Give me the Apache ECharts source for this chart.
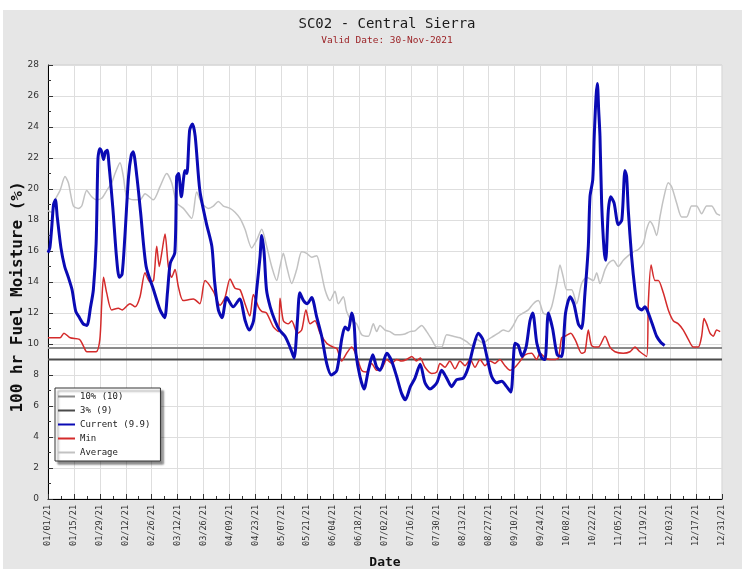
<!DOCTYPE html>
<html>
<head>
<meta charset="utf-8">
<script src="https://cdn.jsdelivr.net/npm/echarts@6/dist/echarts.min.js"></script>
<style>
html,body{margin:0;padding:0;background:#fff;width:742px;height:569px;overflow:hidden;}
#c{position:absolute;left:3px;top:10px;width:739px;height:559px;background:#e6e6e6;}
</style>
</head>
<body>
<div id="c"></div>
<script>
// ---- data (day index from 01/01/21, value %) ----
const xTickLabels = ['01/01/21','01/15/21','01/29/21','02/12/21','02/26/21','03/12/21','03/26/21','04/09/21','04/23/21','05/07/21','05/21/21','06/04/21','06/18/21','07/02/21','07/16/21','07/30/21','08/13/21','08/27/21','09/10/21','09/24/21','10/08/21','10/22/21','11/05/21','11/19/21','12/03/21','12/17/21','12/31/21'];
const yTicks = [0,2,4,6,8,10,12,14,16,18,20,22,24,26,28];
const seriesNames = ['10% (10)','3% (9)','Current (9.9)','Min','Average'];
const thresholdValues = [9.75, 9];

const currentData = [[0,15.9],[1,16.2],[2,17.5],[3,19.0],[4,19.3],[5,18.2],[7,16.2],[9,15.0],[11,14.3],[13,13.5],[15,12.1],[17,11.7],[19,11.3],[21,11.2],[23,12.4],[24.5,13.5],[26,16.5],[27,22.0],[28,22.6],[29,22.4],[30,21.9],[31,22.4],[32,22.5],[33,21.5],[35,18.8],[37,15.6],[38.5,14.3],[40,14.5],[41.5,16.9],[43.5,20.8],[45,22.2],[46,22.4],[48,20.8],[50,18.5],[53,15.0],[57,13.5],[60.5,12.2],[63,11.7],[64.5,13.3],[66,15.2],[68.5,15.9],[69.5,20.8],[70.5,21.0],[72,19.5],[74,21.2],[75,21.0],[76.5,23.8],[78,24.2],[79.5,23.4],[82,19.9],[85.5,17.8],[88.5,16.3],[90,14.0],[92,12.2],[94,11.7],[96.5,13.0],[100,12.4],[103.5,12.9],[106.5,11.5],[108.7,10.9],[111,11.5],[112.7,13.5],[114.5,15.6],[115.4,17.0],[116.7,15.9],[118,13.5],[120,12.4],[122.6,11.5],[125,10.9],[128,10.5],[130.7,9.8],[132.9,9.1],[134.7,11.5],[136,13.3],[138,12.8],[140,12.6],[142.4,13.0],[145,11.8],[147.8,10.5],[150.5,8.75],[153,8.0],[156,8.3],[158.6,10.3],[160.4,11.1],[162.2,10.9],[164,12.0],[165.3,11.3],[166.3,9.4],[168.5,7.9],[170.7,7.1],[173,8.3],[175.4,9.3],[177.5,8.5],[179.3,8.3],[183,9.4],[185.6,8.9],[188.3,7.9],[191,6.8],[193,6.4],[195.7,7.25],[198.2,7.8],[201,8.7],[203.6,7.5],[206.3,7.1],[210,7.5],[212.6,8.3],[215.3,7.8],[218,7.25],[220.7,7.7],[224.3,7.8],[227,8.5],[229.7,9.8],[232.4,10.7],[234.8,10.3],[237,9.2],[239.6,7.9],[242.3,7.5],[245,7.6],[247.7,7.25],[250,6.9],[252.2,10.05],[254,9.9],[256,9.2],[258.2,9.8],[260.3,11.5],[261.8,12.0],[264,10.05],[266.6,9.1],[268.4,9.0],[270.2,12.0],[272.5,11.0],[275,9.3],[277.4,9.2],[279.5,12.0],[282,13.05],[284,12.6],[286.4,11.3],[288.2,11.0],[290,13.3],[291.8,16.3],[292.7,19.5],[294.2,20.6],[295,23.4],[296,26.0],[296.7,26.8],[297.4,25.1],[298.1,23.4],[299,19.1],[300.3,16.1],[301.2,15.4],[302.6,18.6],[303.9,19.5],[305.7,19.1],[308,17.7],[309.9,18.0],[311.6,21.2],[312.5,20.8],[313.4,18.6],[315.2,15.6],[317,13.5],[318.5,12.4],[320.6,12.2],[322.4,12.4],[324.2,12.0],[326.9,11.1],[328.7,10.5],[331,10.1],[333,9.9]];

const minData = [[0,10.4],[6.5,10.4],[8.6,10.7],[12,10.4],[17,10.3],[19,9.9],[21,9.5],[26,9.5],[28,10.3],[29,12.6],[30,14.3],[31.7,13.3],[34.4,12.2],[38,12.3],[40,12.2],[44.3,12.6],[47,12.4],[49.7,13.05],[52.4,14.6],[55,14.0],[57,14.1],[58.7,16.3],[60.1,15.0],[61.4,15.85],[63.2,17.1],[65,15.0],[66.8,14.3],[68.6,14.8],[70.4,13.7],[73,12.8],[78.5,12.9],[82,12.6],[84.8,14.1],[89.3,13.4],[92.9,12.5],[95.6,13.0],[98.3,14.2],[101,13.6],[103.7,13.5],[106.4,12.6],[109,11.8],[110.9,13.2],[113.6,12.4],[115.4,12.1],[118,12.0],[121.7,11.1],[124.4,10.8],[125.3,12.95],[127.1,11.5],[129.8,11.3],[131.6,11.5],[134.7,10.7],[137,10.9],[139.3,12.2],[141.5,11.3],[144.2,11.5],[146.9,10.7],[150.5,10.05],[154,9.8],[156,9.7],[158.6,8.9],[161.3,9.4],[164,9.8],[166.7,9.2],[169.4,8.3],[172,8.2],[174.8,8.75],[177.5,8.3],[180.2,8.4],[183,9.0],[185.6,8.75],[188.3,9.0],[191,8.9],[193.7,9.0],[196.5,9.2],[199,8.9],[201,9.1],[203.6,8.5],[207.2,8.1],[210,8.2],[211.7,8.75],[214.4,8.5],[217,8.9],[219.8,8.4],[222.5,8.9],[225.2,8.6],[228,9.0],[230.6,8.5],[233.3,9.0],[236,8.6],[238.7,8.9],[241.4,8.75],[244,9.0],[246.8,8.6],[249.5,8.3],[252.2,8.5],[255,8.9],[257.6,9.3],[261.2,9.4],[263.9,9.0],[265.7,9.4],[269.3,9.05],[273,9.0],[275.6,9.1],[277.4,10.4],[279.2,10.5],[282.3,10.7],[285,10.2],[288.2,9.4],[290,9.5],[291.8,10.9],[293.6,9.9],[297.2,9.8],[300.8,10.5],[303.5,9.8],[306.2,9.5],[310.7,9.4],[314.3,9.5],[317,9.8],[319.7,9.5],[323.3,9.2],[324.2,12.6],[325.7,15.1],[327.8,14.1],[329.6,14.1],[332.3,13.3],[335,12.2],[337.7,11.5],[340.4,11.3],[343.1,10.9],[345.8,10.3],[348.5,9.8],[351.2,9.8],[353,10.5],[354.3,11.65],[355.7,11.3],[357.5,10.7],[359.3,10.5],[361.1,10.9],[363,10.8]];

const averageData = [[0,18.6],[2,18.5],[3.8,19.3],[6.5,19.9],[9.2,20.8],[11,20.4],[13.7,18.9],[16.4,18.75],[18.2,18.9],[20.9,19.9],[23.6,19.5],[26.3,19.3],[29,19.4],[31.7,19.9],[34.4,20.4],[36.2,21.0],[38.9,21.7],[40.7,20.8],[42.5,19.5],[46.1,19.3],[49.7,19.3],[52.4,19.7],[56.9,19.3],[60.5,20.15],[64.1,21.0],[66.8,20.4],[69.5,19.1],[73.1,18.75],[77.6,18.1],[80.3,19.8],[83,19.1],[86.6,18.75],[89.3,18.9],[92,19.2],[94.7,18.9],[98.3,18.75],[101,18.5],[103.7,18.1],[106.4,17.4],[110,16.2],[112.7,16.7],[115.4,17.4],[118.1,16.3],[120.8,15.0],[123.5,14.1],[125.3,15.0],[127.1,15.85],[128.9,15.0],[131.6,13.9],[134.3,14.8],[137,15.95],[139.7,15.85],[142.4,15.6],[145.1,15.7],[146.9,15.0],[149.6,13.5],[152.3,12.8],[155,13.4],[156.8,12.6],[159.5,13.05],[161.3,12.1],[164,11.5],[166.7,11.3],[169.4,10.6],[173,10.5],[175.7,11.3],[177.5,10.8],[179.3,11.2],[182,10.9],[184.7,10.8],[187.4,10.6],[190.1,10.6],[192.8,10.65],[195.5,10.8],[198.2,10.85],[201.8,11.2],[204.5,10.8],[207.2,10.3],[209.9,9.8],[212.6,9.8],[215.3,10.6],[218.9,10.5],[222.5,10.4],[226.1,10.15],[228.8,9.9],[231.5,10.3],[235.1,10.05],[237.8,10.3],[240.5,10.5],[243.2,10.7],[245.9,10.9],[248.6,10.8],[251.3,11.2],[254,11.8],[256.7,12.0],[259.4,12.2],[262.1,12.6],[264.8,12.8],[267.5,12.0],[269.5,11.9],[272,12.4],[274.7,13.9],[276.5,15.1],[278.3,14.3],[280.1,13.5],[282.8,13.5],[285.5,12.6],[288.2,13.9],[290.9,14.3],[294.5,14.1],[296.3,14.6],[298.1,13.9],[300.8,14.8],[302.6,15.2],[305.3,15.4],[308,15.0],[310.7,15.4],[313.4,15.7],[316.1,15.95],[318.8,16.1],[321.5,16.5],[323.3,17.4],[325.1,17.9],[326.9,17.6],[328.7,17.0],[330.5,18.2],[332.3,19.3],[335,20.4],[336.8,20.15],[339.5,19.1],[342.2,18.2],[344.9,18.2],[347.6,18.9],[350.3,18.9],[353,18.4],[355.7,18.9],[358.4,18.9],[361.1,18.4],[363,18.3]];

// ---- chart ----
const X_MAX = (xTickLabels.length - 1) * 14;
const mono = 'DejaVu Sans Mono';
const chart = echarts.init(document.getElementById('c'), null, {renderer: 'canvas'});

function thresholdSeries(i, color, width) {
  return {
    name: seriesNames[i], type: 'line', color: color, symbol: 'none', z: 2,
    lineStyle: {color: color, width: width},
    data: [[0, thresholdValues[i]], [X_MAX, thresholdValues[i]]],
    silent: true, animation: false
  };
}

chart.setOption({
  animation: false,
  backgroundColor: '#e6e6e6',
  title: [
    {text: 'SC02 - Central Sierra', left: 379, top: 2, textAlign: 'center',
     textStyle: {fontFamily: mono, fontSize: 14, fontWeight: 'normal', color: '#1a1a1a'}},
    {text: 'Valid Date: 30-Nov-2021', left: 379, top: 21, textAlign: 'center',
     textStyle: {fontFamily: mono, fontSize: 9.5, fontWeight: 'normal', color: '#9b2226'}}
  ],
  grid: {left: 45, top: 55, right: 20, bottom: 70, show: true, backgroundColor: '#ffffff', borderColor: '#cfcfcf', borderWidth: 1},
  legend: {
    orient: 'vertical', left: 52, top: 378,
    data: seriesNames,
    icon: 'rect', itemWidth: 17, itemHeight: 2, itemGap: 5,
    padding: [4, 10, 4, 3],
    backgroundColor: '#ffffff', borderColor: '#333', borderWidth: 1,
    shadowColor: 'rgba(0,0,0,0.45)', shadowBlur: 2, shadowOffsetX: 3, shadowOffsetY: 3,
    textStyle: {fontFamily: mono, fontSize: 9, color: '#222'},
    selectedMode: false
  },
  xAxis: {
    type: 'value', min: 0, max: X_MAX, interval: 14,
    axisLine: {lineStyle: {color: '#000', width: 1}},
    axisTick: {inside: true, length: 5, lineStyle: {color: '#333'}},
    minorTick: {show: true, splitNumber: 2, length: 3, lineStyle: {color: '#333'}},
    splitLine: {show: true, lineStyle: {color: '#dedede', width: 1}},
    axisLabel: {
      rotate: 90, margin: 6, fontFamily: mono, fontSize: 8.5, color: '#333',
      formatter: function (v) { return xTickLabels[Math.round(v / 14)] || ''; }
    }
  },
  yAxis: {
    type: 'value', min: yTicks[0], max: yTicks[yTicks.length - 1], interval: 2,
    axisLine: {show: true, lineStyle: {color: '#000', width: 1}},
    axisTick: {show: true, inside: true, length: 5, lineStyle: {color: '#333'}},
    minorTick: {show: true, splitNumber: 2, length: 3, lineStyle: {color: '#333'}},
    splitLine: {show: true, lineStyle: {color: '#dedede', width: 1}},
    axisLabel: {margin: 9, fontFamily: 'DejaVu Sans', fontSize: 9, color: '#333'}
  },
  graphic: [
    {type: 'text', x: 15, y: 287, rotation: Math.PI / 2, silent: true,
     style: {text: '100 hr Fuel Moisture (%)', font: 'bold 16px "DejaVu Sans Mono"', fill: '#111', textAlign: 'center', textVerticalAlign: 'middle'}},
    {type: 'text', x: 382, y: 553, silent: true,
     style: {text: 'Date', font: 'bold 13px "DejaVu Sans Mono"', fill: '#111', textAlign: 'center', textVerticalAlign: 'middle'}}
  ],
  series: [
    thresholdSeries(0, '#8a8a8a', 2),
    thresholdSeries(1, '#4a4a4a', 2),
    {name: seriesNames[2], type: 'line', color: '#0a0ab4', symbol: 'none', smooth: 0.25, z: 5,
     lineStyle: {color: '#0a0ab4', width: 3}, data: currentData},
    {name: seriesNames[3], type: 'line', color: '#d42b2b', symbol: 'none', smooth: 0.25, z: 4,
     lineStyle: {color: '#d42b2b', width: 1.5}, data: minData},
    {name: seriesNames[4], type: 'line', color: '#c2c2c2', symbol: 'none', smooth: 0.25, z: 3,
     lineStyle: {color: '#c2c2c2', width: 1.5}, data: averageData}
  ]
});
</script>
</body>
</html>
